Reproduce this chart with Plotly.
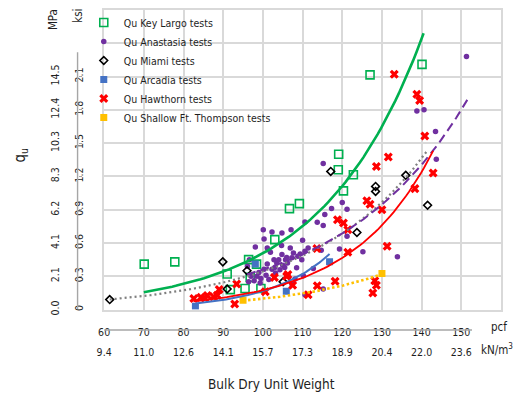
import numpy as np
import plotly.graph_objects as go

# ---- measured tests: bulk dry unit weight (pcf) vs unconfined strength qu (ksi) ----
key_largo_pcf = [70.1, 77.8, 91.0, 91.8, 95.5, 96.4, 96.8, 98.4, 99.5, 103.0, 106.7, 109.2,
                 119.1, 119.0, 120.3, 122.8, 127.0, 140.1]
key_largo_ksi = [0.41, 0.43, 0.32, 0.18, 0.19, 0.45, 0.29, 0.41, 0.19, 0.63, 0.91, 0.955,
                 1.40, 1.26, 1.07, 1.215, 2.115, 2.21]

anastasia_pcf = [96.1, 96.4, 96.6, 97.0, 97.8, 98.1, 98.5, 99.0, 99.3, 99.5, 100.1, 100.3,
                 100.3, 100.8, 101.1, 101.1, 101.5, 101.9, 102.3, 102.3, 102.8, 103.0, 103.2,
                 103.5, 104.0, 104.3, 104.7, 104.8, 104.8, 105.0, 105.5, 105.7, 106.0, 106.2,
                 106.9, 107.1, 107.3, 107.3, 107.7, 108.1, 108.5, 108.8, 109.4, 109.8, 110.0,
                 110.2, 110.6, 110.6, 110.6, 111.4, 112.7, 113.7, 114.7, 115.2, 115.2, 115.2,
                 115.6, 117.3, 119.3, 120.0, 121.2, 121.2, 125.2, 133.9, 138.8, 140.6, 143.5,
                 143.7, 151.3]
anastasia_ksi = [0.39, 0.25, 0.45, 0.30, 0.26, 0.565, 0.30, 0.334, 0.24, 0.28, 0.72, 0.635,
                 0.364, 0.31, 0.41, 0.555, 0.27, 0.517, 0.70, 0.364, 0.45, 0.38, 0.33,
                 0.42, 0.45, 0.36, 0.577, 0.69, 0.497, 0.40, 0.38, 0.45, 0.47, 0.42,
                 0.555, 0.72, 0.467, 0.23, 0.51, 0.275, 0.378, 0.48, 0.50, 0.45, 0.624,
                 0.304, 0.79, 0.526, 0.133, 0.555, 0.37, 0.786, 0.535, 0.757, 0.186, 1.316,
                 0.857, 0.91, 0.547, 0.966, 0.905, 0.66, 0.52, 0.475, 1.79, 1.80, 1.606,
                 1.355, 2.28]

miami_pcf = [61.4, 89.9, 91.0, 96.0, 105.1, 117.1, 123.7, 128.4, 128.4, 136.0, 141.5]
miami_ksi = [0.09, 0.43, 0.185, 0.35, 0.25, 1.245, 0.695, 1.11, 1.065, 1.21, 0.94]

arcadia_pcf = [83.0, 98.1, 105.9, 116.8]
arcadia_ksi = [0.03, 0.41, 0.165, 0.43]

hawthorn_pcf = [82.6, 84.4, 85.4, 86.0, 87.6, 88.5, 89.0, 92.9, 93.4, 100.6, 102.9, 106.0,
                106.3, 107.5, 111.4, 113.6, 113.7, 118.2, 118.8, 120.3, 121.4, 121.4, 126.2,
                127.0, 127.7, 128.2, 128.6, 130.0, 131.3, 128.6, 131.6, 133.1, 138.3, 138.8,
                139.5, 140.8, 142.9]
hawthorn_ksi = [0.10, 0.11, 0.105, 0.127, 0.115, 0.13, 0.18, 0.05, 0.23, 0.16, 0.29, 0.30,
                0.315, 0.22, 0.133, 0.55, 0.215, 0.255, 0.81, 0.78, 0.72, 0.517, 0.98,
                0.95, 0.15, 0.26, 0.22, 0.90, 0.57, 1.29, 1.375, 2.12, 1.09, 1.94,
                1.885, 1.565, 1.23]

ft_thompson_pcf = [95.0, 130.0]
ft_thompson_ksi = [0.083, 0.325]

# exponential trendlines: (start pcf, start ksi, end pcf, end ksi)
key_largo_trend = (70.0, 0.156, 140.5, 2.49)
anastasia_trend = (96.0, 0.317, 151.5, 1.89)
miami_trend = (61.4, 0.091, 141.6, 1.44)
arcadia_trend = (83.0, 0.055, 116.8, 0.50)
hawthorn_trend = (82.5, 0.074, 142.9, 1.43)
ft_thompson_trend = (95.0, 0.08, 130.0, 0.32)

# axis ticks
pcf_ticks = [60, 70, 80, 90, 100, 110, 120, 130, 140, 150]
pcf_labels = ["60", "70", "80", "90", "100", "110", "120", "130", "140", "150"]
knm3_labels = ["9.4", "11.0", "12.6", "14.1", "15.7", "17.3", "18.9", "20.4", "22.0", "23.6"]
ksi_ticks = [0, 0.3, 0.6, 0.9, 1.2, 1.5, 1.8, 2.1]
ksi_labels = ["0", "0.3", "0.6", "0.9", "1.2", "1.5", "1.8", "2.1"]
mpa_labels = ["0.0", "2.1", "4.1", "6.2", "8.3", "10.3", "12.4", "14.5"]
ksi_extra_grid = [2.4]

FONT = "DejaVu Sans Condensed, Liberation Sans, Arial, sans-serif"
TEXT = "#1E1E1E"
GREEN = "#00B050"
PURPLE = "#7030A0"
BLUE = "#4472C4"
RED = "#FF0000"
ORANGE = "#FFC000"
GRAY = "#7F7F7F"
GRID = "#D9D9D9"


def exp_curve(trend, n=80):
    x0, y0, x1, y1 = trend
    x = np.linspace(x0, x1, n)
    y = y0 * (y1 / y0) ** ((x - x0) / (x1 - x0))
    return x, y


fig = go.Figure()

series = [
    ("Qu Key Largo tests", key_largo_pcf, key_largo_ksi,
     dict(symbol="square-open", size=8, color=GREEN, line=dict(width=1.6, color=GREEN))),
    ("Qu Anastasia tests", anastasia_pcf, anastasia_ksi,
     dict(symbol="circle", size=5.5, color=PURPLE, line=dict(width=0))),
    ("Qu Miami tests", miami_pcf, miami_ksi,
     dict(symbol="diamond-open", size=6, color="#000000", line=dict(width=1.6, color="#000000"))),
    ("Qu Arcadia tests", arcadia_pcf, arcadia_ksi,
     dict(symbol="square", size=7, color=BLUE, line=dict(width=0))),
    ("Qu Hawthorn tests", hawthorn_pcf, hawthorn_ksi,
     dict(symbol="x", size=8, color=RED, line=dict(width=0))),
    ("Qu Shallow Ft. Thompson tests", ft_thompson_pcf, ft_thompson_ksi,
     dict(symbol="square", size=7, color=ORANGE, line=dict(width=0))),
]
for name, xs, ys, marker in series:
    fig.add_trace(go.Scatter(x=xs, y=ys, mode="markers", name=name, marker=marker,
                             hoverinfo="skip"))

trends = [
    (key_largo_trend, dict(color=GREEN, width=2.6)),
    (miami_trend, dict(color=GRAY, width=2.2, dash="2px,3px")),
    (anastasia_trend, dict(color=PURPLE, width=2, dash="9px,5px")),
    (arcadia_trend, dict(color=BLUE, width=2)),
    (hawthorn_trend, dict(color=RED, width=1.8)),
    (ft_thompson_trend, dict(color=ORANGE, width=2.6, dash="2.5px,2.5px")),
]
for trend, line in trends:
    tx, ty = exp_curve(trend)
    fig.add_trace(go.Scatter(x=tx, y=ty, mode="lines", line=line, showlegend=False,
                             hoverinfo="skip"))

# empty trace registering the kN/m3 and MPa scales
fig.add_trace(go.Scatter(x=[None], y=[None], xaxis="x2", yaxis="y2", showlegend=False))

W, H = 513, 396
ML, MR, MT, MB = 0, 12, 10, 0
PW, PH = W - ML - MR, H - MT - MB


def px_x(px):
    return (px - ML) / PW


def px_y(py):
    return (H - MB - py) / PH


tick_font = dict(family=FONT, size=10.5, color=TEXT)

fig.update_layout(
    width=W, height=H,
    margin=dict(l=ML, r=MR, t=MT, b=MB),
    paper_bgcolor="white", plot_bgcolor="white",
    font=dict(family=FONT, size=12, color=TEXT),
    xaxis=dict(domain=[px_x(97.7), 1.0], range=[60, 160], tickvals=pcf_ticks,
               ticktext=pcf_labels, showgrid=True, gridcolor=GRID, gridwidth=1.6,
               showline=True, mirror=True, linecolor=GRID, linewidth=1.6,
               zeroline=False, ticks="", ticklabelstandoff=12, tickfont=tick_font),
    yaxis=dict(domain=[px_y(314.3), 1.0], range=[0, 2.7], tickvals=ksi_ticks,
               ticktext=ksi_labels, showgrid=True, gridcolor=GRID, gridwidth=1.6,
               showline=True, mirror=True, linecolor=GRID, linewidth=1.6,
               minor=dict(tickvals=ksi_extra_grid, showgrid=True, gridcolor=GRID,
                          gridwidth=1.6, ticks=""),
               zeroline=False, ticks="", tickangle=-90,
               ticklabelstandoff=15, tickfont=tick_font),
    xaxis2=dict(overlaying="x", anchor="free", position=px_y(335), side="bottom",
                range=[60, 160], tickvals=pcf_ticks, ticktext=knm3_labels,
                showgrid=False, zeroline=False, showline=False, ticks="",
                ticklabelstandoff=15, tickfont=tick_font),
    yaxis2=dict(overlaying="y", anchor="free", position=px_x(70.7), side="left",
                range=[0, 2.7], tickvals=ksi_ticks, ticktext=mpa_labels,
                showgrid=False, zeroline=False, showline=False, ticks="inside",
                ticklen=3, tickwidth=1.2, tickcolor="#A6A6A6", tickangle=-90,
                ticklabelstandoff=16, tickfont=tick_font),
    legend=dict(x=px_x(77), y=px_y(8), xanchor="left", yanchor="top",
                bgcolor="rgba(0,0,0,0)", borderwidth=0,
                font=dict(family=FONT, size=10.5, color=TEXT),
                traceorder="normal"),
    showlegend=True,
    hovermode=False,
)

# axis rules for the secondary scales
fig.add_shape(type="line", xref="paper", yref="y", x0=px_x(70.7), x1=px_x(70.7),
              y0=0, y1=2.32, line=dict(color="#A6A6A6", width=1.4))
fig.add_shape(type="line", xref="x", yref="paper", x0=58, x1=152.7,
              y0=px_y(335), y1=px_y(335), line=dict(color="#A6A6A6", width=1.4))

ann = dict(xref="paper", yref="paper", showarrow=False,
           font=dict(family=FONT, size=11.5, color=TEXT))
fig.add_annotation(text="pcf", x=px_x(499), y=px_y(332), xanchor="center", yanchor="middle", **ann)
fig.add_annotation(text="kN/m<sup>3</sup>", x=px_x(497), y=px_y(355), xanchor="center",
                   yanchor="middle", **ann)
fig.add_annotation(text="MPa", x=px_x(46), y=px_y(20), xanchor="center", yanchor="middle",
                   textangle=-90, **ann)
fig.add_annotation(text="ksi", x=px_x(71), y=px_y(16), xanchor="center", yanchor="middle",
                   textangle=-90, **ann)
fig.add_annotation(text="Bulk Dry Unit Weight", x=px_x(267.5), y=px_y(390), xanchor="center",
                   yanchor="middle", xref="paper", yref="paper", showarrow=False,
                   font=dict(family=FONT, size=13.5, color=TEXT))
fig.add_annotation(text="q<sub>u</sub>", x=px_x(13), y=px_y(157), xanchor="center",
                   yanchor="middle", textangle=-90, xref="paper", yref="paper", showarrow=False,
                   font=dict(family=FONT, size=15, color=TEXT))

fig.write_html("out.html", config=dict(displayModeBar=False))
